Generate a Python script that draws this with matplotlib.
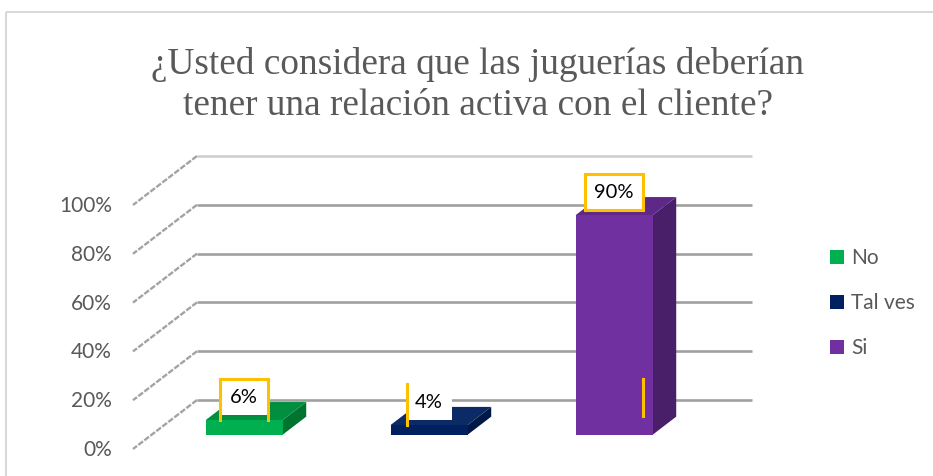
import matplotlib
matplotlib.use('Agg')
import matplotlib.pyplot as plt
from matplotlib.patches import Polygon, Rectangle
import numpy as np

title = '¿Usted considera que las juguerías deberían\ntener una relación activa con el cliente?'
categories = ['No', 'Tal ves', 'Si']
values = [6, 4, 90]
value_labels = ['6%', '4%', '90%']
ticks = [0, 20, 40, 60, 80, 100]
tick_labels = ['0%', '20%', '40%', '60%', '80%', '100%']

front_colors = ['#00B050', '#002060', '#7030A0']
top_colors = ['#008F3F', '#0B2A66', '#5E2888']
side_colors = ['#00742F', '#001845', '#4A1F6A']
box_sides = ['tlr', 'l', 'tlrb']
box_widths = [48, 45, 58]

GRAY = '#595959'
GOLD = '#FFC000'
W, H = 933, 477

fig = plt.figure(figsize=(W / 100, H / 100), dpi=100)

# full-figure pixel axes for frame, title and legend
bg = fig.add_axes([0, 0, 1, 1], zorder=0)
bg.set_xlim(0, W)
bg.set_ylim(H, 0)
bg.axis('off')

# back wall of the chart
ax = fig.add_axes([197 / W, 76 / H, 555 / W, 244 / H], zorder=1)
ax.set_xlim(-0.5, 2.5)
ax.set_ylim(0, 100)
ax.axis('off')

DEPTH = np.array([-64.0, -49.0])  # pixel shift from back wall to front edge


def pt(x, y, d=0.0, ox=0.0, oy=0.0):
    # point (x, y) of the back wall pushed forward by depth fraction d
    disp = ax.transData.transform((x, y)) + d * DEPTH + np.array([ox, oy])
    return ax.transData.inverted().transform(disp)


# frame
bg.add_patch(Rectangle((6, 13), W, H, fill=False, ec='#d9d9d9', lw=1.5))

# title
for i, line in enumerate(title.split('\n')):
    bg.text(478, 74 + i * 41, line, ha='center', va='baseline', fontsize=26.8,
            family='Liberation Serif', color=GRAY)

# gridlines on back wall + dashed side wall lines + tick labels
for v, lbl in zip(ticks, tick_labels):
    c = '#cfcfcf' if v == ticks[-1] else '#a0a0a0'
    ax.plot([-0.5, 2.5], [v, v], color=c, lw=1.9, solid_capstyle='butt',
            clip_on=False)
    p0, p1 = pt(-0.5, v, 0), pt(-0.5, v, 1)
    ax.plot([p0[0], p1[0]], [p0[1], p1[1]], color='#a3a3a3', lw=1.7,
            ls=(0, (2.5, 0.7)), clip_on=False)
    pl = pt(-0.5, v, 1, ox=-21)
    ax.text(pl[0], pl[1], lbl, ha='right', va='center', fontsize=15,
            family='Lato', color=GRAY)

# 3d bars
w = 0.416
d0, d1 = 0.34, 0.71
for i, h in enumerate(values):
    x = i
    front = [pt(x - w / 2, 0, d1), pt(x + w / 2, 0, d1),
             pt(x + w / 2, h, d1), pt(x - w / 2, h, d1)]
    top = [pt(x - w / 2, h, d1), pt(x + w / 2, h, d1),
           pt(x + w / 2, h, d0), pt(x - w / 2, h, d0)]
    side = [pt(x + w / 2, 0, d1), pt(x + w / 2, 0, d0),
            pt(x + w / 2, h, d0), pt(x + w / 2, h, d1)]
    for poly, col in [(side, side_colors[i]), (top, top_colors[i]),
                      (front, front_colors[i])]:
        ax.add_patch(Polygon(poly, closed=True, fc=col, ec='none',
                             clip_on=False, zorder=3))

# data labels
for i, (h, lbl) in enumerate(zip(values, value_labels)):
    bw = box_widths[i] / 2
    bl, br = pt(i, h, d1, ox=-bw, oy=5), pt(i, h, d1, ox=bw, oy=5)
    tl, tr = pt(i, h, d1, ox=-bw, oy=41), pt(i, h, d1, ox=bw, oy=41)
    ax.add_patch(Polygon([bl, br, tr, tl], closed=True, fc='white', ec='none',
                         clip_on=False, zorder=4))
    sides = box_sides[i]
    lb = pt(i, h, d1, ox=-bw, oy=0) if 'b' not in sides else bl
    rb = pt(i, h, d1, ox=bw, oy=0) if 'b' not in sides else br
    segs = {'t': (tl, tr), 'l': (lb, tl), 'r': (rb, tr), 'b': (bl, br)}
    for s in sides:
        a, b = segs[s]
        ax.plot([a[0], b[0]], [a[1], b[1]], color=GOLD, lw=2.2,
                solid_capstyle='projecting', clip_on=False, zorder=5)
    pc = pt(i, h, d1, oy=24)
    ax.text(pc[0], pc[1], lbl, ha='center', va='center', fontsize=14.5,
            family='Lato', color='black', zorder=6)

# stray gold tick left inside the tall bar
bw = box_widths[2] / 2
sa = pt(2, 0, d1, ox=bw, oy=56)
sb = pt(2, 0, d1, ox=bw, oy=19)
ax.plot([sa[0], sb[0]], [sa[1], sb[1]], color=GOLD, lw=2.2, clip_on=False,
        zorder=5)

# legend
for i, (name, col) in enumerate(zip(categories, front_colors)):
    yc = 258 + i * 45
    bg.add_patch(Rectangle((830, yc - 7), 14, 14, fc=col, ec='none'))
    bg.text(851, yc, name, ha='left', va='center', fontsize=15,
            family='Lato', color=GRAY)

fig.savefig('out.png', dpi=100)
